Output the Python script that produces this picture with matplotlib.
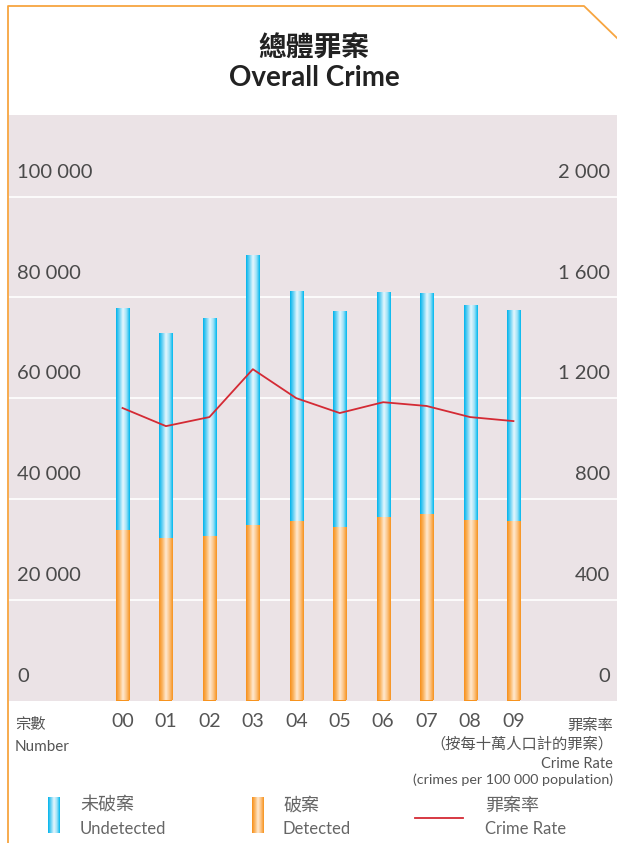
import numpy as np
import matplotlib
matplotlib.use("Agg")
import matplotlib.pyplot as plt
from matplotlib.colors import LinearSegmentedColormap
from matplotlib.lines import Line2D

# data
years = ["00", "01", "02", "03", "04", "05", "06", "07", "08", "09"]
total = [77800, 73000, 75900, 88400, 81300, 77400, 81100, 80800, 78500, 77500]
detected = [33800, 32200, 32600, 34800, 35600, 34400, 36400, 37000, 35800, 35600]
rate = [1161, 1089, 1125, 1315, 1200, 1141, 1184, 1169, 1125, 1109]
left_ticks = [0, 20000, 40000, 60000, 80000, 100000]
left_labels = ["0", "20 000", "40 000", "60 000", "80 000", "100 000"]
right_ticks = [0, 400, 800, 1200, 1600, 2000]
right_labels = ["0", "400", "800", "1 200", "1 600", "2 000"]

undetected = [t - d for t, d in zip(total, detected)]

W, H = 617, 843
fig = plt.figure(figsize=(W / 100, H / 100), dpi=100)

CJK = ["Noto Sans CJK TC", "DejaVu Sans"]
LAT = ["Lato", "Noto Sans CJK TC", "DejaVu Sans"]
grey = "#555555"
orange_line = "#F7A540"

blue_cmap = LinearSegmentedColormap.from_list(
    "b", ["#00B4EC", "#6FD3F4", "#E6F7FD", "#9EE1F7", "#00B8EE"])
orange_cmap = LinearSegmentedColormap.from_list(
    "o", ["#F7901A", "#FBB767", "#FFEAD2", "#FCC485", "#F7931E"])
grad = np.linspace(0, 1, 64)[None, :]

# main plot area
ax = fig.add_axes([9 / W, (H - 700.5) / H, (W - 9) / W, (700.5 - 115) / H])
ax.set_facecolor("#EBE3E6")
for s in ax.spines.values():
    s.set_visible(False)

x = np.arange(len(years))
bw = 0.30
b1 = ax.bar(x, detected, bw, color="#F7931E", zorder=2)
b2 = ax.bar(x, undetected, bw, bottom=detected, color="#00B8EE", zorder=2)
for bars, cm in ((b1, orange_cmap), (b2, blue_cmap)):
    for p in bars:
        im = ax.imshow(grad, cmap=cm, aspect="auto", zorder=3,
                       extent=[p.get_x(), p.get_x() + p.get_width(),
                               p.get_y(), p.get_y() + p.get_height()])
        im.set_clip_path(p)

for v in left_ticks[1:]:
    ax.axhline(v, color="white", lw=1.2, zorder=1)

ax.set_xlim(-2.613, 11.383)
ax.set_ylim(0, 116200)
ax.set_yticks([])
ax.set_xticks(x, years)
ax.tick_params(axis="x", length=0, pad=9, labelsize=14, labelcolor=grey)
for t in ax.get_xticklabels():
    t.set_family(LAT)

for v, lab in zip(left_ticks, left_labels):
    ax.annotate(lab, xy=(8 / 608, v), xycoords=ax.get_yaxis_transform(),
                xytext=(0, 17.5), textcoords="offset points", va="center",
                ha="left", fontsize=14.5, color="#4a4a4a", family=LAT)

ax2 = ax.twinx()
ax2.set_ylim(0, 116200 / 50)
ax2.plot(x, rate, color="#D42A34", lw=1.3, zorder=4)
ax2.set_yticks([])
for s in ax2.spines.values():
    s.set_visible(False)
for v, lab in zip(right_ticks, right_labels):
    ax2.annotate(lab, xy=(601 / 608, v), xycoords=ax2.get_yaxis_transform(),
                 xytext=(0, 17.5), textcoords="offset points", va="center",
                 ha="right", fontsize=14.5, color="#4a4a4a", family=LAT)

# title
fig.text(314 / W, 1 - 49 / H, "總體罪案", ha="center", va="center",
         fontsize=20, fontweight="bold", family=CJK, color="#222222")
fig.text(314 / W, 1 - 78 / H, "Overall Crime", ha="center", va="center",
         fontsize=20, fontweight="bold", family=LAT, color="#222222")

# orange frame
fig.add_artist(Line2D([8 / W, 8 / W, 584 / W, 1.0],
                      [0, 1 - 6 / H, 1 - 6 / H, 1 - 38 / H],
                      color=orange_line, lw=1.3))

# axis captions
fig.text(15 / W, 1 - 725 / H, "宗數", fontsize=11, family=CJK, color=grey, va="center")
fig.text(15 / W, 1 - 747 / H, "Number", fontsize=11, family=LAT, color=grey, va="center")
rx = 613 / W
fig.text(rx, 1 - 725 / H, "罪案率", fontsize=11, family=CJK, color=grey, va="center", ha="right")
fig.text(rx, 1 - 744 / H, "（按每十萬人口計的罪案）", fontsize=11, family=CJK, color=grey, va="center", ha="right")
fig.text(rx, 1 - 764 / H, "Crime Rate", fontsize=10.5, family=LAT, color=grey, va="center", ha="right")
fig.text(rx, 1 - 780 / H, "(crimes per 100 000 population)", fontsize=10.3, family=LAT, color=grey, va="center", ha="right")

# legend
for lx, cm in ((48, blue_cmap), (252, orange_cmap)):
    lax = fig.add_axes([lx / W, (H - 833) / H, 12 / W, 36 / H])
    lax.imshow(grad, cmap=cm, aspect="auto")
    lax.axis("off")
fig.add_artist(Line2D([415 / W, 463 / W], [1 - 818 / H, 1 - 818 / H],
                      color="#D42A34", lw=1.3))
for lx, zh, en in ((80, "未破案", "Undetected"), (283, "破案", "Detected"),
                   (485, "罪案率", "Crime Rate")):
    fig.text(lx / W, 1 - 806 / H, zh, fontsize=13, family=CJK, color="#666666", va="center")
    fig.text(lx / W, 1 - 829 / H, en, fontsize=12, family=LAT, color="#666666", va="center")

fig.savefig("out.png", dpi=100)
